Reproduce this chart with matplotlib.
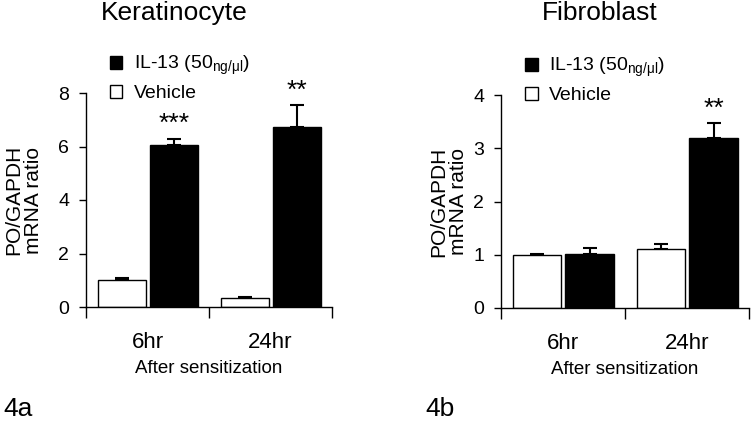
import matplotlib
matplotlib.use("Agg")
import matplotlib.pyplot as plt
from matplotlib.patches import Patch

plt.rcParams['font.family'] = ['Liberation Sans', 'DejaVu Sans']

# data
groups = ['6hr', '24hr']
kera_vehicle = [1.0, 0.32]
kera_vehicle_err = [0.08, 0.05]
kera_il13 = [6.04, 6.72]
kera_il13_err = [0.24, 0.83]
kera_il13_stars = ['***', '**']

fibro_vehicle = [1.0, 1.1]
fibro_vehicle_err = [0.02, 0.1]
fibro_il13 = [1.02, 3.2]
fibro_il13_err = [0.11, 0.27]
fibro_il13_stars = ['', '**']

il13_label = 'IL-13 (50$\\mathregular{_{ng/μl}}$)'


def draw_panel(ax, veh, veh_err, il, il_err, stars, ymax, step, star_gap):
    centers = [0.5, 1.5]
    w = 0.39
    xv = [c - 0.21 for c in centers]
    xi = [c + 0.215 for c in centers]
    ax.bar(xv, veh, width=w, color='white', edgecolor='black', linewidth=1, zorder=2)
    ax.bar(xi, il, width=w, color='black', edgecolor='black', linewidth=1, zorder=2)
    ax.errorbar(xv, veh, yerr=[[0] * len(veh), veh_err], fmt='none', ecolor='black',
                elinewidth=1.5, capsize=5, capthick=1.5, zorder=1)
    ax.errorbar(xi, il, yerr=[[0] * len(il), il_err], fmt='none', ecolor='black',
                elinewidth=1.5, capsize=5, capthick=1.5, zorder=1)
    for x, v, e, s in zip(xi, il, il_err, stars):
        if s:
            ax.text(x, v + e + star_gap, s, ha='center', va='bottom', fontsize=19)
    ax.set_xlim(0, 2)
    ax.set_ylim(0, ymax)
    ax.set_yticks(range(0, ymax + 1, step))
    ax.set_xticks([0, 1, 2])
    ax.set_xticklabels([])
    ax.set_xticks(centers, minor=True)
    ax.set_xticklabels(groups, minor=True, fontsize=16)
    ax.tick_params(axis='x', which='major', direction='out', length=8, width=1)
    ax.tick_params(axis='x', which='minor', length=0, pad=18)
    ax.tick_params(axis='y', direction='out', length=5, width=1, labelsize=14, pad=7)
    for sp in ['top', 'right']:
        ax.spines[sp].set_visible(False)
    ax.spines['left'].set_linewidth(1)
    ax.spines['bottom'].set_linewidth(1)
    ax.set_xlabel('After sensitization', fontsize=13.5, labelpad=5)
    ax.set_ylabel('PO/GAPDH\nmRNA ratio', fontsize=15, linespacing=1.05)
    handles = [Patch(facecolor='black', edgecolor='black'),
               Patch(facecolor='white', edgecolor='black')]
    ax.legend(handles, [il13_label, 'Vehicle'], loc='upper left',
              bbox_to_anchor=(0.065, 1.22), frameon=False, fontsize=14,
              handlelength=0.65, handleheight=0.65, handletextpad=0.6,
              labelspacing=0.4, borderaxespad=0)


fig = plt.figure(figsize=(7.52, 4.22), dpi=100)
ax1 = fig.add_axes([86 / 752, 115 / 422, 246 / 752, 214 / 422])
ax2 = fig.add_axes([501 / 752, 114 / 422, 248 / 752, 213 / 422])

draw_panel(ax1, kera_vehicle, kera_vehicle_err, kera_il13, kera_il13_err,
           kera_il13_stars, 8, 2, 0.1)
draw_panel(ax2, fibro_vehicle, fibro_vehicle_err, fibro_il13, fibro_il13_err,
           fibro_il13_stars, 4, 1, 0.05)
ax1.yaxis.set_label_coords(-0.175, 0.5)
ax2.yaxis.set_label_coords(-0.133, 0.5)

fig.text(174 / 752, 1 - 20 / 422, 'Keratinocyte', ha='center', va='baseline', fontsize=19)
fig.text(600 / 752, 1 - 20 / 422, 'Fibroblast', ha='center', va='baseline', fontsize=19)
fig.text(3 / 752, 1 - 416 / 422, '4a', ha='left', va='baseline', fontsize=19)
fig.text(425 / 752, 1 - 416 / 422, '4b', ha='left', va='baseline', fontsize=19)

fig.savefig('out.png', dpi=100)
